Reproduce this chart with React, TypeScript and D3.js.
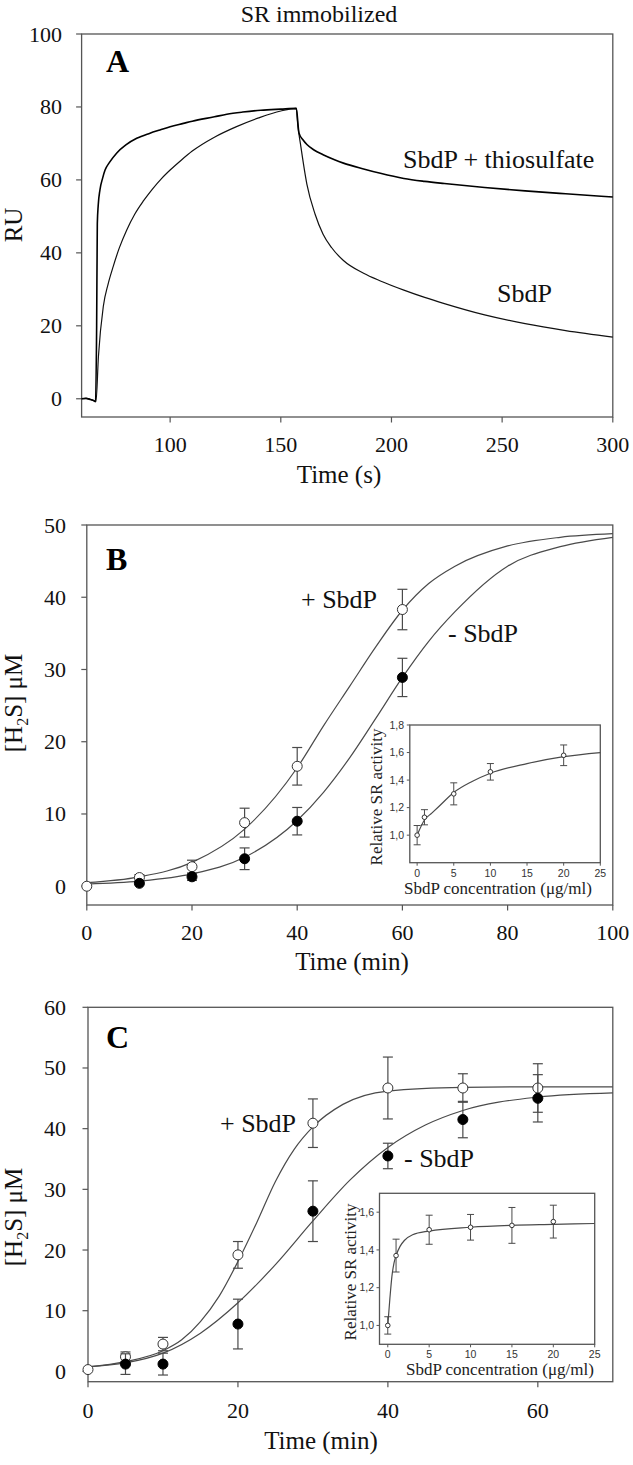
import React from 'react';
import * as d3 from 'd3';

// ---------- Panel A (SPR sensorgram) ----------
const aTitle = 'SR immobilized';
const aThioTime = [60, 62, 64, 65.5, 66.3, 66.8, 67.1, 67.5, 68.3, 69.5, 70.6, 72.6, 75.9, 80, 84.9, 90.9, 95.4, 100, 106, 110, 120, 125.6, 132.8, 141, 150, 157,
  158.2, 160, 161.8, 165, 169.1, 174, 178.3, 187.4, 195, 205.6, 215, 223.9, 242.1, 260.4, 278.7, 300];
const aThioRU = [0, 0.1, -0.2, -0.5, -0.8, 20, 48, 53, 57.3, 60.5, 62.7, 64.8, 67.4, 69.6, 71.4, 72.8, 73.7, 74.6, 75.5, 76.1, 77.3, 78.0, 78.6, 79.1, 79.4, 79.6,
  72.9, 71.0, 69.7, 68.2, 66.9, 65.6, 64.6, 63.0, 61.8, 60.4, 59.6, 59.0, 57.9, 57.0, 56.2, 55.3];
const aSbdPTime = [60, 62, 64, 65.5, 66.5, 67.6, 69.8, 72, 74.3, 77, 80.4, 84, 88, 92, 96, 100, 105, 110, 120, 130, 140, 150, 157,
  157.6, 159.1, 161.8, 165.5, 169.1, 173, 178.3, 187.4, 195, 205.6, 215, 223.9, 242.1, 260.4, 278.7, 300];
const aSbdPRU = [0, 0.1, -0.2, -0.5, -0.8, 11.6, 25.3, 31.5, 36.3, 41.3, 46.3, 50.6, 54.3, 57.5, 60.3, 62.7, 65.4, 67.9, 71.7, 74.6, 77.0, 78.9, 79.6,
  75.5, 69.0, 58.8, 50.6, 45.1, 41.4, 37.9, 34.4, 32.3, 29.8, 27.8, 26.1, 23.0, 20.6, 18.7, 16.9];
const aXTicks = [100, 150, 200, 250, 300];
const aYTicks = [0, 20, 40, 60, 80, 100];

// ---------- Panel B ----------
const bPlusTime = [0, 10, 20, 30, 40, 60];
const bPlus = [0, 1.2, 2.7, 8.8, 16.6, 38.3];
const bPlusErr = [0, 0.4, 0.9, 2.0, 2.6, 2.8];
const bMinusTime = [10, 20, 30, 40, 60];
const bMinus = [0.4, 1.3, 3.8, 9.0, 28.9];
const bMinusErr = [0, 0.5, 1.5, 1.9, 2.65];
const bPlusFitT = [0, 10, 20, 30, 40, 45, 50, 55, 60, 65, 70, 80, 90, 100];
const bPlusFitY = [0.5, 1.3, 3.3, 7.9, 16.4, 22.2, 27.7, 33.2, 38.2, 41.9, 44.3, 47.1, 48.3, 48.8];
const bMinusFitT = [0, 10, 20, 30, 40, 45, 50, 55, 60, 65, 70, 80, 90, 100];
const bMinusFitY = [0.3, 0.7, 1.7, 4.0, 9.1, 13.0, 17.8, 23.3, 28.9, 33.9, 38.0, 44.3, 47.0, 48.3];
const bXTicks = [0, 20, 40, 60, 80, 100];
const bYTicks = [0, 10, 20, 30, 40, 50];

// Inset B
const ibConc = [0, 1, 5, 10, 20];
const ibAct = [1.0, 1.13, 1.30, 1.46, 1.58];
const ibErr = [0.07, 0.055, 0.08, 0.06, 0.075];
const ibFitC = [0, 1, 2, 3, 5, 7.5, 10, 15, 20, 25];
const ibFitA = [1.0, 1.11, 1.16, 1.21, 1.31, 1.39, 1.45, 1.52, 1.57, 1.60];
const ibXTicks = [0, 5, 10, 15, 20, 25];
const ibYTicks = [1.0, 1.2, 1.4, 1.6, 1.8];

// ---------- Panel C ----------
const cPlusTime = [0, 5, 10, 20, 30, 40, 50, 60];
const cPlus = [0.3, 2.4, 4.5, 19.2, 40.9, 46.7, 46.7, 46.7];
const cPlusErr = [0, 0.8, 1.1, 2.2, 4.0, 5.1, 2.35, 4.0];
const cMinusTime = [5, 10, 20, 30, 40, 50, 60];
const cMinus = [1.2, 1.2, 7.8, 26.4, 35.5, 41.5, 45.0];
const cMinusErr = [1.7, 1.8, 4.1, 5.0, 2.1, 3.0, 3.9];
const cPlusFitT = [0, 5, 10, 12.5, 15, 17.5, 20, 22.5, 25, 27.5, 30, 34, 40, 50, 60, 70];
const cPlusFitY = [0.7, 1.6, 3.4, 5.2, 8.2, 12.4, 18.1, 24.5, 31.3, 36.6, 40.3, 44.0, 46.2, 46.8, 46.9, 46.9];
const cMinusFitT = [0, 5, 10, 15, 20, 25, 30, 35, 40, 45, 50, 60, 70];
const cMinusFitY = [0.8, 1.4, 3.0, 6.3, 11.3, 17.6, 24.8, 31.6, 36.9, 40.6, 43.0, 45.2, 45.9];
const cXTicks = [0, 20, 40, 60];
const cYTicks = [0, 10, 20, 30, 40, 50, 60];

// Inset C
const icConc = [0, 1, 5, 10, 15, 20];
const icAct = [1.0, 1.37, 1.507, 1.52, 1.53, 1.55];
const icErr = [0.046, 0.087, 0.077, 0.068, 0.095, 0.087];
const icFitC = [0, 0.25, 0.5, 0.75, 1, 1.5, 2, 3, 5, 10, 15, 20, 25];
const icFitA = [1.0, 1.14, 1.26, 1.33, 1.37, 1.42, 1.45, 1.48, 1.50, 1.52, 1.53, 1.535, 1.54];
const icXTicks = [0, 5, 10, 15, 20, 25];
const icYTicks = [1.0, 1.2, 1.4, 1.6];

const serif = "'Liberation Serif','Times New Roman',serif";
const sans = "'Liberation Sans',Arial,sans-serif";
const axisColor = '#555';
const curveColor = '#4a4a4a';

const fmtComma = (v: number) => v.toFixed(1).replace('.', ',');

type Sc = d3.ScaleLinear<number, number>;

function Box({ x, y }: { x: Sc; y: Sc }) {
  const [x0, x1] = x.range();
  const [y0, y1] = y.range();
  return <rect x={x0} y={y1} width={x1 - x0} height={y0 - y1} fill="none" stroke={axisColor} strokeWidth={1.3} />;
}

function MainAxes({ x, y, xTicks, yTicks, xLabelY, yLabelEnd, fontSize = 22 }: any) {
  const [x0] = x.range();
  const [yb] = y.range();
  return (
    <g>
      {xTicks.map((t: number) => (
        <g key={'x' + t}>
          <line x1={x(t)} x2={x(t)} y1={yb} y2={yb + 5.5} stroke={axisColor} strokeWidth={1.2} />
          <text x={x(t)} y={xLabelY} textAnchor="middle" fontFamily={serif} fontSize={fontSize} fill="#111">{t}</text>
        </g>
      ))}
      {yTicks.map((t: number) => (
        <g key={'y' + t}>
          <line x1={x0 - 5.5} x2={x0} y1={y(t)} y2={y(t)} stroke={axisColor} strokeWidth={1.2} />
          <text x={yLabelEnd} y={y(t) + 7.5} textAnchor="end" fontFamily={serif} fontSize={fontSize} fill="#111">{t}</text>
        </g>
      ))}
    </g>
  );
}

function Points({ x, y, xs, ys, errs, filled, r = 5, cap = 5, sw = 1.2 }: any) {
  return (
    <g>
      {xs.map((t: number, i: number) => {
        const e = errs[i];
        if (!e) return null;
        return (
          <g key={'e' + i} stroke={curveColor} strokeWidth={sw}>
            <line x1={x(t)} x2={x(t)} y1={y(ys[i] - e)} y2={y(ys[i] + e)} />
            <line x1={x(t) - cap} x2={x(t) + cap} y1={y(ys[i] + e)} y2={y(ys[i] + e)} />
            <line x1={x(t) - cap} x2={x(t) + cap} y1={y(ys[i] - e)} y2={y(ys[i] - e)} />
          </g>
        );
      })}
      {xs.map((t: number, i: number) => (
        <circle key={'c' + i} cx={x(t)} cy={y(ys[i])} r={r} fill={filled ? '#000' : '#fff'} stroke={filled ? '#000' : '#333'} strokeWidth={1} />
      ))}
    </g>
  );
}

function Curve({ x, y, xs, ys, stroke = curveColor, sw = 1.2 }: any) {
  const pts: [number, number][] = xs.map((t: number, i: number) => [t, ys[i]]);
  const gen = d3.line<[number, number]>().x((d) => x(d[0])).y((d) => y(d[1])).curve(d3.curveMonotoneX);
  return <path d={gen(pts) || ''} fill="none" stroke={stroke} strokeWidth={sw} strokeLinejoin="round" />;
}

function Inset({ x, y, conc, act, err, fitC, fitA, xTicks, yTicks, yLabelEnd, xTickY, xLabelX, xLabelY, rotX, rotY }: any) {
  const [x0] = x.range();
  const [yb] = y.range();
  return (
    <g>
      <Box x={x} y={y} />
      {xTicks.map((t: number) => (
        <g key={'x' + t}>
          <line x1={x(t)} x2={x(t)} y1={yb} y2={yb + 3} stroke={axisColor} strokeWidth={1} />
          <text x={x(t)} y={xTickY} textAnchor="middle" fontFamily={sans} fontSize={10.5} fill="#333">{t}</text>
        </g>
      ))}
      {yTicks.map((t: number) => (
        <g key={'y' + t}>
          <line x1={x0 - 3} x2={x0} y1={y(t)} y2={y(t)} stroke={axisColor} strokeWidth={1} />
          <text x={yLabelEnd} y={y(t) + 3.7} textAnchor="end" fontFamily={sans} fontSize={10.5} fill="#333">{fmtComma(t)}</text>
        </g>
      ))}
      <Curve x={x} y={y} xs={fitC} ys={fitA} sw={1.2} />
      <Points x={x} y={y} xs={conc} ys={act} errs={err} filled={false} r={2.3} cap={3.5} sw={1} />
      <text x={xLabelX} y={xLabelY} textAnchor="middle" fontFamily={serif} fontSize={17} fill="#222">SbdP concentration (μg/ml)</text>
      <text transform={`translate(${rotX},${rotY}) rotate(-90)`} textAnchor="middle" fontFamily={serif} fontSize={17} fill="#222">Relative SR activity</text>
    </g>
  );
}

function H2SLabel({ x, y }: { x: number; y: number }) {
  return (
    <text transform={`translate(${x},${y}) rotate(-90)`} textAnchor="middle" fontFamily={serif} fontSize={25} fill="#111">
      <tspan>[H</tspan>
      <tspan fontSize={16} dy={6}>2</tspan>
      <tspan dy={-6}>S] μM</tspan>
    </text>
  );
}

export default function App() {
  // Panel A scales
  const ax = d3.scaleLinear().domain([60, 300]).range([81.6, 612.8]);
  const ay = d3.scaleLinear().domain([-5, 100]).range([417, 34]);
  // Panel B scales
  const bx = d3.scaleLinear().domain([0, 100]).range([86.8, 612.8]);
  const by = d3.scaleLinear().domain([-2.6, 50]).range([905, 525]);
  const ibx = d3.scaleLinear().domain([-1, 25]).range([409.8, 600.3]);
  const iby = d3.scaleLinear().domain([0.8, 1.8]).range([862.7, 725]);
  // Panel C scales
  const cx = d3.scaleLinear().domain([0, 70]).range([88, 612.8]);
  const cy = d3.scaleLinear().domain([-1.7, 60]).range([1381.7, 1007.3]);
  const icx = d3.scaleLinear().domain([-1, 25]).range([379.5, 594.7]);
  const icy = d3.scaleLinear().domain([0.9, 1.7]).range([1344.3, 1193.3]);

  return (
    <svg width={633} height={1465} viewBox="0 0 633 1465" style={{ position: 'absolute', left: 0, top: 0, display: 'block', background: '#fff' }}>
      <rect x={0} y={0} width={633} height={1465} fill="#fff" />

      {/* Panel A */}
      <text x={319} y={22} textAnchor="middle" fontFamily={serif} fontSize={24} fill="#111">{aTitle}</text>
      <Box x={ax} y={ay} />
      <MainAxes x={ax} y={ay} xTicks={aXTicks} yTicks={aYTicks} xLabelY={452} yLabelEnd={62} />
      <Curve x={ax} y={ay} xs={aSbdPTime} ys={aSbdPRU} stroke="#111" sw={1.2} />
      <Curve x={ax} y={ay} xs={aThioTime} ys={aThioRU} stroke="#000" sw={1.6} />
      <text x={106} y={72} fontFamily={serif} fontWeight="bold" fontSize={32} fill="#000">A</text>
      <text x={403} y={168} fontFamily={serif} fontSize={26} fill="#111">SbdP + thiosulfate</text>
      <text x={497} y={302} fontFamily={serif} fontSize={26} fill="#111">SbdP</text>
      <text transform="translate(22,225) rotate(-90)" textAnchor="middle" fontFamily={serif} fontSize={25} fill="#111">RU</text>
      <text x={339} y={483} textAnchor="middle" fontFamily={serif} fontSize={25} fill="#111">Time (s)</text>

      {/* Panel B */}
      <Box x={bx} y={by} />
      <MainAxes x={bx} y={by} xTicks={bXTicks} yTicks={bYTicks} xLabelY={940} yLabelEnd={66} />
      <Curve x={bx} y={by} xs={bPlusFitT} ys={bPlusFitY} />
      <Curve x={bx} y={by} xs={bMinusFitT} ys={bMinusFitY} />
      <Points x={bx} y={by} xs={bPlusTime} ys={bPlus} errs={bPlusErr} filled={false} />
      <Points x={bx} y={by} xs={bMinusTime} ys={bMinus} errs={bMinusErr} filled={true} />
      <text x={106} y={570} fontFamily={serif} fontWeight="bold" fontSize={32} fill="#000">B</text>
      <text x={301} y={608} fontFamily={serif} fontSize={26} fill="#111">+ SbdP</text>
      <text x={448} y={642} fontFamily={serif} fontSize={26} fill="#111">- SbdP</text>
      <H2SLabel x={22} y={703} />
      <text x={352} y={970} textAnchor="middle" fontFamily={serif} fontSize={25} fill="#111">Time (min)</text>
      <Inset x={ibx} y={iby} conc={ibConc} act={ibAct} err={ibErr} fitC={ibFitC} fitA={ibFitA}
        xTicks={ibXTicks} yTicks={ibYTicks} yLabelEnd={404} xTickY={877} xLabelX={498} xLabelY={894} rotX={382} rotY={797} />

      {/* Panel C */}
      <Box x={cx} y={cy} />
      <MainAxes x={cx} y={cy} xTicks={cXTicks} yTicks={cYTicks} xLabelY={1418} yLabelEnd={66} />
      <Curve x={cx} y={cy} xs={cPlusFitT} ys={cPlusFitY} />
      <Curve x={cx} y={cy} xs={cMinusFitT} ys={cMinusFitY} />
      <Points x={cx} y={cy} xs={cPlusTime} ys={cPlus} errs={cPlusErr} filled={false} />
      <Points x={cx} y={cy} xs={cMinusTime} ys={cMinus} errs={cMinusErr} filled={true} />
      <text x={106} y={1048} fontFamily={serif} fontWeight="bold" fontSize={32} fill="#000">C</text>
      <text x={220} y={1132} fontFamily={serif} fontSize={26} fill="#111">+ SbdP</text>
      <text x={404} y={1167} fontFamily={serif} fontSize={26} fill="#111">- SbdP</text>
      <H2SLabel x={22} y={1217} />
      <text x={321} y={1449} textAnchor="middle" fontFamily={serif} fontSize={25} fill="#111">Time (min)</text>
      <Inset x={icx} y={icy} conc={icConc} act={icAct} err={icErr} fitC={icFitC} fitA={icFitA}
        xTicks={icXTicks} yTicks={icYTicks} yLabelEnd={374} xTickY={1358} xLabelX={500} xLabelY={1375} rotX={356} rotY={1272} />
    </svg>
  );
}
